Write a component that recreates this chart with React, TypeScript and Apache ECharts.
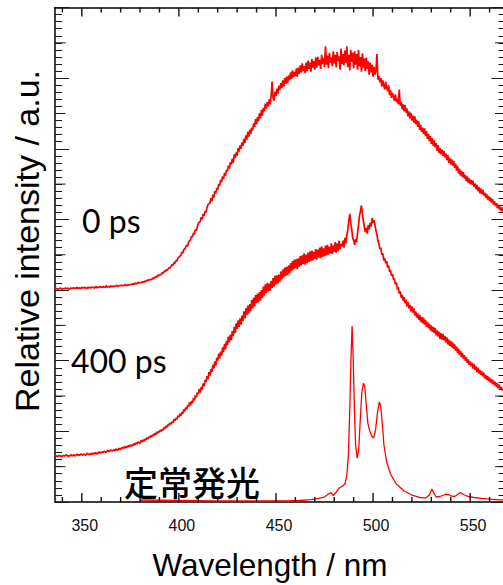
import React, { useEffect, useRef } from "react";
import * as echarts from "echarts";

// Wavelength grid (nm) for the two time-resolved spectra: start + index * step
const wavelengthStart = 336;
const wavelengthStep = 0.5;

// 0 ps spectrum (offset baseline ~3.0)
const ps0 = [
  3.02, 3.01, 3.02, 3.02, 3.01, 3.02, 3.03, 3.02, 3.01, 3.02,
  3.02, 3.03, 3.02, 3.02, 3.03, 3.01, 3.02, 3.03, 3.02, 3.03,
  3.03, 3.02, 3.03, 3.04, 3.02, 3.03, 3.03, 3.02, 3.04, 3.03,
  3.03, 3.04, 3.03, 3.02, 3.04, 3.03, 3.04, 3.03, 3.04, 3.04,
  3.04, 3.03, 3.04, 3.05, 3.03, 3.04, 3.04, 3.05, 3.04, 3.04,
  3.05, 3.04, 3.04, 3.06, 3.04, 3.05, 3.05, 3.04, 3.06, 3.05,
  3.05, 3.06, 3.05, 3.06, 3.07, 3.05, 3.06, 3.06, 3.07, 3.06,
  3.07, 3.06, 3.07, 3.08, 3.06, 3.07, 3.08, 3.07, 3.08, 3.08,
  3.08, 3.09, 3.08, 3.10, 3.09, 3.09, 3.11, 3.10, 3.10, 3.11,
  3.11, 3.12, 3.11, 3.13, 3.12, 3.14, 3.13, 3.15, 3.14, 3.15,
  3.15, 3.17, 3.16, 3.18, 3.19, 3.18, 3.21, 3.20, 3.22, 3.22,
  3.22, 3.25, 3.24, 3.27, 3.26, 3.29, 3.28, 3.30, 3.32, 3.31,
  3.34, 3.36, 3.35, 3.39, 3.38, 3.42, 3.41, 3.45, 3.46, 3.48,
  3.49, 3.54, 3.52, 3.58, 3.57, 3.61, 3.64, 3.62, 3.68, 3.70,
  3.71, 3.76, 3.75, 3.81, 3.79, 3.86, 3.84, 3.90, 3.94, 3.96,
  3.97, 4.03, 4.00, 4.08, 4.05, 4.12, 4.10, 4.17, 4.21, 4.22,
  4.23, 4.30, 4.26, 4.35, 4.31, 4.40, 4.37, 4.44, 4.42, 4.50,
  4.48, 4.56, 4.53, 4.61, 4.57, 4.66, 4.62, 4.70, 4.68, 4.76,
  4.72, 4.81, 4.78, 4.86, 4.80, 4.92, 4.87, 4.95, 4.90, 5.01,
  4.96, 5.05, 5.00, 5.09, 5.04, 5.14, 5.08, 5.19, 5.13, 5.24,
  5.17, 5.27, 5.21, 5.30, 5.26, 5.36, 5.31, 5.42, 5.35, 5.45,
  5.39, 5.50, 5.43, 5.55, 5.47, 5.58, 5.53, 5.64, 5.57, 5.66,
  5.60, 5.70, 5.63, 5.74, 5.95, 5.72, 5.68, 5.81, 5.75, 5.85,
  5.78, 5.89, 5.83, 5.93, 5.86, 5.97, 5.88, 6.00, 5.92, 6.02,
  5.93, 6.04, 5.97, 6.08, 5.99, 6.11, 6.01, 6.09, 6.03, 6.14,
  6.02, 6.15, 6.06, 6.18, 6.08, 6.21, 6.10, 6.17, 6.07, 6.22,
  6.10, 6.25, 6.13, 6.22, 6.09, 6.27, 6.15, 6.24, 6.12, 6.29,
  6.15, 6.30, 6.18, 6.26, 6.13, 6.33, 6.20, 6.28, 6.16, 6.45,
  6.19, 6.32, 6.14, 6.36, 6.22, 6.29, 6.17, 6.38, 6.21, 6.33,
  6.15, 6.37, 6.24, 6.31, 6.12, 6.42, 6.20, 6.34, 6.18, 6.39,
  6.22, 6.45, 6.16, 6.33, 6.11, 6.40, 6.23, 6.36, 6.14, 6.38,
  6.19, 6.34, 6.12, 6.40, 6.17, 6.30, 6.09, 6.35, 6.15, 6.28,
  6.10, 6.29, 6.13, 6.24, 6.05, 6.22, 6.08, 6.19, 6.02, 6.16,
  6.05, 6.11, 6.34, 5.98, 6.03, 5.94, 6.00, 5.88, 5.97, 5.90,
  5.84, 5.95, 5.86, 5.82, 5.90, 5.76, 5.83, 5.72, 5.79, 5.74,
  5.68, 5.77, 5.66, 5.71, 5.63, 5.84, 5.61, 5.66, 5.56, 5.63,
  5.53, 5.62, 5.51, 5.57, 5.46, 5.53, 5.43, 5.51, 5.40, 5.47,
  5.37, 5.46, 5.35, 5.41, 5.31, 5.39, 5.27, 5.34, 5.24, 5.30,
  5.21, 5.29, 5.18, 5.25, 5.14, 5.21, 5.11, 5.18, 5.07, 5.15,
  5.04, 5.12, 5.02, 5.08, 4.97, 5.05, 4.94, 5.01, 4.92, 4.99,
  4.90, 4.97, 4.88, 4.93, 4.84, 4.91, 4.80, 4.87, 4.78, 4.85,
  4.76, 4.83, 4.73, 4.79, 4.69, 4.76, 4.65, 4.72, 4.62, 4.69,
  4.60, 4.67, 4.58, 4.63, 4.54, 4.61, 4.52, 4.58, 4.50, 4.56,
  4.49, 4.55, 4.46, 4.51, 4.43, 4.49, 4.40, 4.46, 4.37, 4.44,
  4.36, 4.42, 4.34, 4.38, 4.31, 4.36, 4.28, 4.33, 4.26, 4.31,
  4.24, 4.29, 4.21, 4.26, 4.19, 4.23, 4.16, 4.21, 4.14, 4.18,
  4.12, 4.17, 4.10, 4.13, 4.09,
];

// 400 ps spectrum (offset baseline ~0.65)
const ps400 = [
  0.65, 0.66, 0.65, 0.64, 0.66, 0.65, 0.66, 0.64, 0.65, 0.66,
  0.65, 0.66, 0.67, 0.65, 0.66, 0.64, 0.66, 0.67, 0.65, 0.66,
  0.67, 0.65, 0.66, 0.68, 0.66, 0.67, 0.66, 0.68, 0.67, 0.66,
  0.68, 0.67, 0.66, 0.68, 0.69, 0.67, 0.68, 0.67, 0.69, 0.68,
  0.69, 0.68, 0.70, 0.69, 0.68, 0.70, 0.71, 0.69, 0.70, 0.71,
  0.70, 0.72, 0.71, 0.70, 0.72, 0.73, 0.71, 0.72, 0.74, 0.72,
  0.73, 0.74, 0.72, 0.75, 0.74, 0.73, 0.76, 0.75, 0.74, 0.77,
  0.76, 0.78, 0.76, 0.79, 0.77, 0.78, 0.80, 0.78, 0.81, 0.79,
  0.81, 0.80, 0.83, 0.81, 0.84, 0.82, 0.85, 0.84, 0.83, 0.87,
  0.85, 0.88, 0.86, 0.89, 0.88, 0.91, 0.89, 0.92, 0.91, 0.94,
  0.92, 0.95, 0.94, 0.97, 0.95, 0.99, 0.97, 1.00, 0.99, 1.02,
  1.00, 1.03, 1.02, 1.06, 1.04, 1.08, 1.06, 1.10, 1.09, 1.12,
  1.10, 1.14, 1.12, 1.17, 1.15, 1.19, 1.17, 1.22, 1.20, 1.25,
  1.22, 1.27, 1.25, 1.31, 1.28, 1.34, 1.31, 1.37, 1.35, 1.41,
  1.37, 1.43, 1.40, 1.47, 1.44, 1.51, 1.48, 1.55, 1.53, 1.60,
  1.55, 1.63, 1.59, 1.68, 1.64, 1.73, 1.70, 1.78, 1.74, 1.84,
  1.79, 1.88, 1.84, 1.94, 1.89, 1.99, 1.93, 2.04, 2.00, 2.10,
  2.03, 2.13, 2.07, 2.19, 2.12, 2.24, 2.16, 2.28, 2.22, 2.34,
  2.26, 2.37, 2.29, 2.42, 2.35, 2.48, 2.39, 2.53, 2.45, 2.57,
  2.48, 2.60, 2.51, 2.64, 2.56, 2.70, 2.60, 2.74, 2.65, 2.78,
  2.67, 2.80, 2.70, 2.86, 2.74, 2.89, 2.77, 2.93, 2.82, 2.95,
  2.83, 2.97, 2.85, 3.00, 2.89, 3.05, 2.92, 3.08, 2.96, 3.10,
  2.98, 3.09, 2.99, 3.13, 3.03, 3.17, 3.05, 3.20, 3.08, 3.21,
  3.09, 3.22, 3.12, 3.26, 3.15, 3.29, 3.18, 3.32, 3.20, 3.33,
  3.21, 3.35, 3.24, 3.38, 3.27, 3.41, 3.29, 3.43, 3.31, 3.44,
  3.30, 3.45, 3.33, 3.48, 3.35, 3.49, 3.37, 3.52, 3.36, 3.50,
  3.38, 3.53, 3.40, 3.55, 3.41, 3.56, 3.42, 3.54, 3.44, 3.58,
  3.43, 3.57, 3.46, 3.60, 3.45, 3.62, 3.47, 3.59, 3.48, 3.63,
  3.49, 3.64, 3.50, 3.61, 3.52, 3.66, 3.51, 3.63, 3.54, 3.68,
  3.53, 3.66, 3.55, 3.70, 3.58, 3.65, 3.62, 3.70, 3.60, 3.74,
  3.66, 3.78, 3.85, 3.98, 4.08, 3.95, 3.86, 3.74, 3.70, 3.64,
  3.72, 3.68, 3.80, 3.92, 4.05, 4.12, 4.20, 4.08, 3.98, 3.90,
  3.82, 3.88, 3.80, 3.92, 3.86, 3.95, 3.90, 4.02, 3.95, 3.99,
  3.92, 3.84, 3.78, 3.70, 3.66, 3.58, 3.60, 3.50, 3.52, 3.42,
  3.45, 3.38, 3.41, 3.32, 3.35, 3.26, 3.28, 3.20, 3.23, 3.15,
  3.16, 3.08, 3.11, 3.01, 3.04, 2.95, 2.98, 2.89, 2.93, 2.85,
  2.90, 2.81, 2.86, 2.77, 2.83, 2.74, 2.79, 2.70, 2.77, 2.68,
  2.74, 2.64, 2.70, 2.61, 2.67, 2.58, 2.65, 2.55, 2.62, 2.53,
  2.61, 2.51, 2.58, 2.48, 2.55, 2.46, 2.52, 2.43, 2.50, 2.41,
  2.48, 2.39, 2.46, 2.36, 2.43, 2.34, 2.41, 2.31, 2.39, 2.30,
  2.38, 2.29, 2.35, 2.26, 2.33, 2.23, 2.30, 2.21, 2.28, 2.19,
  2.26, 2.17, 2.23, 2.14, 2.20, 2.11, 2.17, 2.08, 2.14, 2.05,
  2.11, 2.03, 2.08, 2.00, 2.05, 1.97, 2.02, 1.94, 1.99, 1.92,
  1.97, 1.89, 1.95, 1.87, 1.92, 1.84, 1.90, 1.82, 1.87, 1.80,
  1.85, 1.78, 1.83, 1.75, 1.80, 1.73, 1.78, 1.71, 1.76, 1.69,
  1.74, 1.67, 1.72, 1.65, 1.70, 1.63, 1.68, 1.61, 1.66, 1.59,
  1.63, 1.58, 1.61, 1.57, 1.58,
];

// Steady-state emission (定常発光)
const steadyWl = [
  380, 400, 420, 440, 455, 462, 468, 472, 475, 477, 478.3, 479.5, 481, 482.5,
  484, 485.5, 486.5, 487.3, 488, 488.6, 489.2, 489.8, 490.4, 491, 491.8, 492.6,
  493.4, 494.2, 495, 495.7, 496.5, 497.3, 498.3, 499.3, 500.3, 501.3, 502.3,
  503.2, 504, 504.8, 505.6, 507, 509, 512, 516, 520, 524, 527, 529, 530.3,
  531.3, 532.5, 534.5, 537, 538.5, 540, 542, 543.5, 545, 546.5, 549, 552, 556,
  560, 565, 568,
];
const steadyVal = [
  0.028, 0.021, 0.014, 0.014, 0.014, 0.021, 0.035, 0.05, 0.07, 0.113, 0.134,
  0.092, 0.14, 0.198, 0.219, 0.255, 0.38, 0.665, 1.3, 2.01, 2.49, 2.01, 1.3,
  0.81, 0.62, 0.74, 1.16, 1.54, 1.68, 1.64, 1.37, 1.12, 1.005, 0.934, 0.906,
  1.02, 1.27, 1.416, 1.345, 1.09, 0.807, 0.566, 0.396, 0.255, 0.156, 0.099,
  0.064, 0.057, 0.099, 0.184, 0.127, 0.071, 0.078, 0.106, 0.109, 0.088, 0.078,
  0.106, 0.134, 0.106, 0.078, 0.064, 0.052, 0.042, 0.031, 0.028,
];

// Axis ticks / labels
const xTickLabels = [350, 400, 450, 500, 550];
const xMinorTicks = [
  340, 360, 370, 380, 390, 410, 420, 430, 440, 460, 470, 480, 490, 510, 520,
  530, 540, 560,
];
const yMidTicks = [0.5, 1.5, 2.5, 3.5, 4.5, 5.5, 6.5];

const X_MIN = 336.2;
const X_MAX = 568.2;
const Y_MIN = 0;
const Y_MAX = 7;

export default function App() {
  const ref = useRef<HTMLDivElement>(null);

  useEffect(() => {
    if (!ref.current) return;
    const chart = echarts.init(ref.current, null, { renderer: "svg" });

    const tickLine = { color: "#1a1a1a", width: 1 };
    const axisLineOn = {
      show: true,
      onZero: false,
      lineStyle: { color: "#000", width: 1.5 },
    };

    const mkYMain = (position: string) => ({
      type: "value",
      position,
      min: Y_MIN,
      max: Y_MAX,
      interval: 1,
      axisLine: axisLineOn,
      axisTick: { show: true, inside: true, length: 14, lineStyle: tickLine },
      minorTick: { show: true, splitNumber: 10, length: 7, lineStyle: tickLine },
      axisLabel: { show: false },
      splitLine: { show: false },
      minorSplitLine: { show: false },
    });

    const seriesLine = (name: string, data: number[][], width: number) => ({
      name,
      type: "line",
      data,
      showSymbol: false,
      symbol: "none",
      lineStyle: { color: "#ff0000", width },
      itemStyle: { color: "#ff0000" },
      clip: true,
      z: 3,
    });

    const textStyle = (
      text: string,
      fontSize: number,
      fontFamily: string,
      align: string,
      fontWeight: string = "normal"
    ) => ({
      text,
      fontSize,
      fontFamily,
      fontWeight,
      fill: "#000",
      align,
      verticalAlign: "middle",
      textAlign: align,
      textVerticalAlign: "middle",
    });

    const texts = [
      {
        type: "text",
        x: 27,
        y: 241,
        rotation: Math.PI / 2,
        style: textStyle(
          "Relative intensity / a.u.",
          34,
          "Liberation Sans, Arial, sans-serif",
          "center"
        ),
      },
      {
        type: "text",
        x: 270,
        y: 565,
        style: textStyle(
          "Wavelength / nm",
          31.5,
          "Liberation Sans, Arial, sans-serif",
          "center"
        ),
      },
      {
        type: "text",
        x: 82,
        y: 220,
        style: textStyle("0 ps", 32, "Lato, sans-serif", "left"),
      },
      {
        type: "text",
        x: 71,
        y: 360,
        style: textStyle("400 ps", 32, "Lato, sans-serif", "left"),
      },
      {
        type: "text",
        x: 124,
        y: 481,
        style: textStyle(
          "定常発光",
          34,
          "Noto Sans CJK JP, sans-serif",
          "left",
          "500"
        ),
      },
    ];

    chart.setOption({
      animation: false,
      backgroundColor: "#ffffff",
      grid: {
        left: 55,
        top: 7.5,
        width: 450.5,
        height: 494.5,
        outerBoundsMode: "none",
        containLabel: false,
      },
      xAxis: [
        {
          type: "value",
          position: "bottom",
          min: X_MIN,
          max: X_MAX,
          axisLine: axisLineOn,
          axisTick: { show: false },
          axisLabel: {
            show: true,
            customValues: xTickLabels,
            margin: 15,
            padding: [0, 0, 0, 6],
            color: "#111",
            fontSize: 16,
            fontFamily: "Liberation Sans, Arial, sans-serif",
          },
          splitLine: { show: false },
        },
        {
          type: "value",
          position: "top",
          min: X_MIN,
          max: X_MAX,
          axisLine: axisLineOn,
          axisTick: { show: false },
          axisLabel: { show: false },
          splitLine: { show: false },
        },
      ],
      yAxis: [mkYMain("left"), mkYMain("right")],
      series: [
        seriesLine(
          "0 ps",
          ps0.map((v, i) => [wavelengthStart + i * wavelengthStep, v]),
          1.7
        ),
        seriesLine(
          "400 ps",
          ps400.map((v, i) => [wavelengthStart + i * wavelengthStep, v]),
          1.7
        ),
        seriesLine(
          "定常発光",
          steadyWl.map((w, i) => [w, steadyVal[i]]),
          1.3
        ),
      ],
      graphic: texts,
    });

    // Tick marks as filled rectangles, positioned through the chart's own scales
    const toPx = (x: number, y: number) =>
      chart.convertToPixel({ gridIndex: 0 }, [x, y]) as number[];
    const ticks: any[] = [];
    const addXTick = (v: number, len: number) => {
      const b = toPx(v, Y_MIN);
      const t = toPx(v, Y_MAX);
      if (!b || !t || isNaN(b[0])) return;
      ticks.push({
        type: "rect",
        z: 100,
        silent: true,
        shape: { x: b[0] - 0.7, y: b[1] - len, width: 1.4, height: len },
        style: { fill: "#111" },
      });
      ticks.push({
        type: "rect",
        z: 100,
        silent: true,
        shape: { x: t[0] - 0.7, y: t[1], width: 1.4, height: len },
        style: { fill: "#111" },
      });
    };
    xTickLabels.forEach((v) => addXTick(v, 9));
    xMinorTicks.forEach((v) => addXTick(v, 5));
    yMidTicks.forEach((v) => {
      const l = toPx(X_MIN, v);
      const r = toPx(X_MAX, v);
      if (!l || !r || isNaN(l[1])) return;
      ticks.push({
        type: "rect",
        z: 100,
        silent: true,
        shape: { x: l[0], y: l[1] - 0.5, width: 10.5, height: 1 },
        style: { fill: "#1a1a1a" },
      });
      ticks.push({
        type: "rect",
        z: 100,
        silent: true,
        shape: { x: r[0] - 10.5, y: r[1] - 0.5, width: 10.5, height: 1 },
        style: { fill: "#1a1a1a" },
      });
    });

    chart.setOption({ graphic: [...texts, ...ticks] });

    return () => chart.dispose();
  }, []);

  return (
    <div
      style={{
        position: "fixed",
        left: 0,
        top: 0,
        width: 503,
        height: 585,
        background: "#fff",
        overflow: "hidden",
      }}
    >
      <div ref={ref} style={{ width: 503, height: 585 }} />
    </div>
  );
}
